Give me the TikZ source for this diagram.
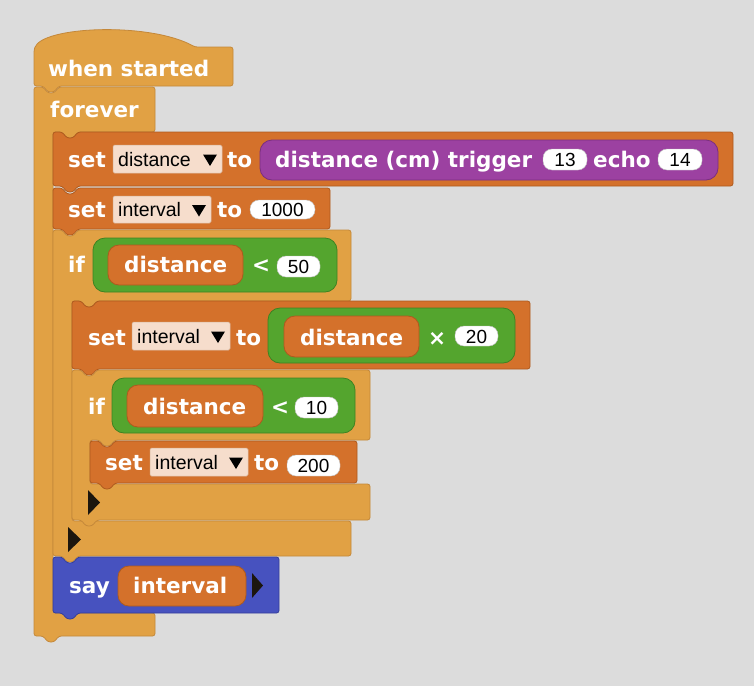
\documentclass[tikz,border=0pt]{standalone}
\usepackage{fontspec}
\newfontfamily\lblfont{DejaVu Sans}
\newfontfamily\slotfont{Liberation Sans}

\definecolor{bgC}{HTML}{DCDCDC}
\definecolor{ctrlC}{HTML}{E1A144}
\definecolor{ctrlD}{HTML}{C4883A}
\definecolor{varC}{HTML}{D4712B}
\definecolor{varD}{HTML}{AE5A1E}
\definecolor{opC}{HTML}{54A52E}
\definecolor{opD}{HTML}{3E8222}
\definecolor{senC}{HTML}{9C41A1}
\definecolor{senD}{HTML}{7A2E80}
\definecolor{looksC}{HTML}{4752BF}
\definecolor{looksD}{HTML}{343E9A}
\definecolor{dropC}{HTML}{F6DDCC}
\definecolor{dropD}{HTML}{D9B9A0}
\definecolor{arrowC}{HTML}{1C160E}

% command block: notch on top, tab below
% #1 style, #2 x0, #3 y0, #4 x1, #5 y1
\newcommand\stackblk[5]{%
  \path[#1] (#2,#3) -- (#2+9,#3) -- (#2+14,#3+6) -- (#2+20,#3+6) -- (#2+25,#3)
    -- (#4,#3) -- (#4,#5) -- (#2+25,#5) -- (#2+20,#5+6) -- (#2+14,#5+6)
    -- (#2+9,#5) -- (#2,#5) -- cycle;}

% C-shaped block
% #1 style, #2 x0, #3 y0, #4 x1, #5 bottom of top bar, #6 inner x,
% #7 top of bottom bar, #8 y1
\newcommand\cblk[8]{%
  \path[#1] (#2,#3) -- (#2+9,#3) -- (#2+14,#3+6) -- (#2+20,#3+6) -- (#2+25,#3)
    -- (#4,#3) -- (#4,#5) -- (#6+25,#5) -- (#6+20,#5+6) -- (#6+14,#5+6)
    -- (#6+9,#5) -- (#6,#5) -- (#6,#7) -- (#4,#7) -- (#4,#8)
    -- (#2+25,#8) -- (#2+20,#8+6) -- (#2+14,#8+6) -- (#2+9,#8) -- (#2,#8) -- cycle;}

% dropdown slot with its arrow; #1 x0, #2 y0, #3 x1, #4 y1
\newcommand\dropslot[4]{%
  \path[dropbox] (#1,#2) rectangle (#3,#4);
  \path[arrowfill] (#3-19,{(#2+#4)/2-4.5}) -- (#3-5,{(#2+#4)/2-4.5})
    -- (#3-12,{(#2+#4)/2+7}) -- cycle;}

\begin{document}
\begin{tikzpicture}[x=1pt,y=-1pt,
  ctrlblk/.style={fill=ctrlC,draw=ctrlD,line width=0.8pt,rounded corners=2.5pt},
  varblk/.style={fill=varC,draw=varD,line width=0.8pt,rounded corners=2.5pt},
  looksblk/.style={fill=looksC,draw=looksD,line width=0.8pt,rounded corners=2.5pt},
  varrep/.style={fill=varC,draw=varD,line width=0.8pt,rounded corners=11pt},
  opblk/.style={fill=opC,draw=opD,line width=0.8pt,rounded corners=12pt},
  senrep/.style={fill=senC,draw=senD,line width=0.8pt,rounded corners=12pt},
  numslot/.style={fill=white,draw=black!25,line width=0.4pt,rounded corners=9pt},
  dropbox/.style={fill=dropC,draw=dropD,line width=0.5pt,rounded corners=1.5pt},
  arrowfill/.style={fill=black},
  looparrow/.style={fill=arrowC},
  lbl/.style={font=\lblfont\bfseries\fontsize{21.5}{24}\selectfont,text=white,
    inner sep=0pt,anchor=base west},
  slot/.style={font=\slotfont\fontsize{19.5}{22}\selectfont,text=black,
    inner sep=0pt,anchor=base west},
  num/.style={font=\slotfont\fontsize{19}{22}\selectfont,text=black,
    inner sep=0pt,anchor=base}]

\useasboundingbox (0,0) rectangle (754,686);
\fill[bgC] (0,0) rectangle (754,686);

% hat block
\path[ctrlblk] (34,86) -- (34,50) .. controls (42,26) and (150,22) .. (195,47)
  -- (233,47) -- (233,86) -- (59,86) -- (54,92) -- (48,92) -- (43,86) -- cycle;
\node[lbl] (whenStarted) at (48,76) {when started};

% forever loop
\cblk{ctrlblk}{34}{87}{155}{132}{53}{613}{636}
\node[lbl] (foreverT) at (50,117) {forever};

% set distance to sensor reading
\stackblk{varblk}{53}{132}{733}{186}
\node[lbl] (setA) at (68,167) {set};
\dropslot{113}{145}{222}{173}
\node[slot] (varA) at (118,166.5) {distance};
\node[lbl] (toA) at (227,167) {to};
\path[senrep] (260,140) rectangle (718,180);
\node[lbl] (sensor) at (275,167) {distance (cm) trigger};
\path[numslot] (543,149) rectangle (587,170);
\node[num] (trigN) at (565,166.5) {13};
\node[lbl] (echoT) at (593,167) {echo};
\path[numslot] (658,149) rectangle (702,170);
\node[num] (echoN) at (680,166.5) {14};

% set interval to 1000
\stackblk{varblk}{53}{188}{330}{229}
\node[lbl] (setB) at (68,217) {set};
\dropslot{113}{196}{211}{223}
\node[slot] (varB) at (118,216) {interval};
\node[lbl] (toB) at (217,217) {to};
\path[numslot] (250,200) rectangle (315,219);
\node[num] (numB) at (282.5,216.5) {1000};

% outer if
\cblk{ctrlblk}{53}{230}{351}{301}{72}{521}{556}
\node[lbl] (ifA) at (68,272) {if};
\path[opblk] (93,238) rectangle (337,292);
\path[varrep] (108,245) rectangle (243,285);
\node[lbl] (getA) at (124,272) {distance};
\node[lbl] (ltA) at (252,272) {<};
\path[numslot] (277,256) rectangle (320,277);
\node[num] (numA) at (298.5,273.5) {50};
\path[looparrow] (68,527) -- (81,539.5) -- (68,552) -- cycle;

% set interval to distance x 20
\stackblk{varblk}{72}{301}{530}{369}
\node[lbl] (setC) at (88,345) {set};
\dropslot{132}{322}{230}{350}
\node[slot] (varC) at (137,343) {interval};
\node[lbl] (toC) at (236,345) {to};
\path[opblk] (268,308) rectangle (515,363);
\path[varrep] (284,316) rectangle (419,357);
\node[lbl] (getB) at (300,345) {distance};
\node[lbl] (timesC) at (428,345) {×};
\path[numslot] (455,326) rectangle (498,346);
\node[num] (numC) at (476.5,343) {20};

% inner if
\cblk{ctrlblk}{72}{370}{370}{440}{90}{484}{520}
\node[lbl] (ifB) at (88,414) {if};
\path[opblk] (112,378) rectangle (355,433);
\path[varrep] (127,385) rectangle (263,427);
\node[lbl] (getC) at (143,414) {distance};
\node[lbl] (ltB) at (271,414) {<};
\path[numslot] (295,397) rectangle (338,418);
\node[num] (numD) at (316.5,414.5) {10};
\path[looparrow] (88,490) -- (100,502.5) -- (88,515) -- cycle;

% set interval to 200
\stackblk{varblk}{90}{441}{357}{483}
\node[lbl] (setD) at (105,470) {set};
\dropslot{150}{448}{248}{476}
\node[slot] (varD) at (155,469) {interval};
\node[lbl] (toD) at (254,470) {to};
\path[numslot] (287,455) rectangle (340,476);
\node[num] (numE) at (313.5,472.5) {200};

% say interval
\stackblk{looksblk}{53}{557}{279}{613}
\node[lbl] (sayT) at (69,593) {say};
\path[varrep] (118,566) rectangle (246,606);
\node[lbl] (getD) at (133,593) {interval};
\path[looparrow] (252,573) -- (263,585.5) -- (252,598) -- cycle;

\end{tikzpicture}
\end{document}
